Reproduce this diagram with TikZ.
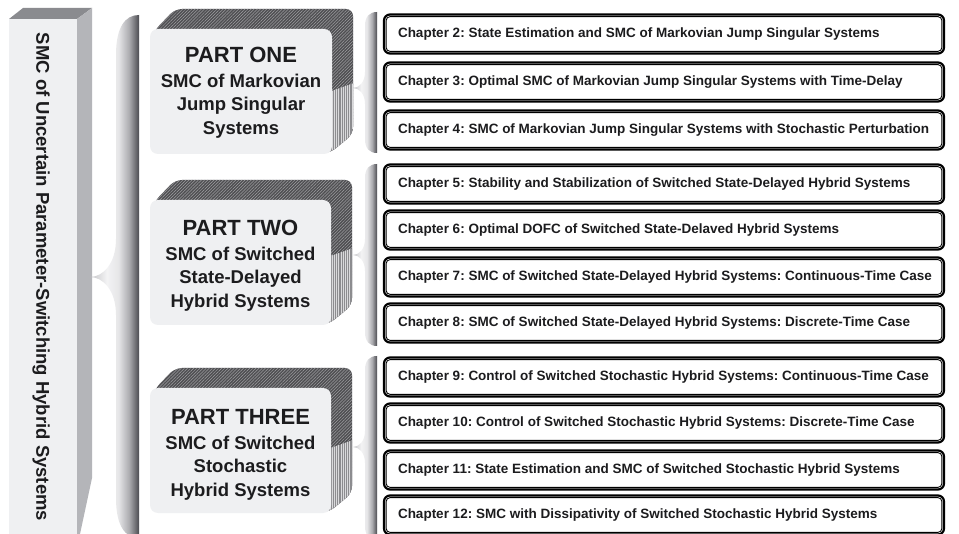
\documentclass[tikz,border=0pt]{standalone}
\usepackage{fontspec}
\setmainfont{Liberation Sans}
\usetikzlibrary{patterns.meta}
\frenchspacing

\definecolor{ink}{HTML}{1C1C1E}
\definecolor{faceLight}{HTML}{EFF0F2}
\definecolor{barTop}{HTML}{8A8B8F}
\definecolor{barSide}{HTML}{B4B5B9}
\definecolor{hatchBase}{HTML}{4F4F52}
\definecolor{hatchLine}{HTML}{A0A0A3}
\definecolor{stripeBase}{HTML}{8C8C8F}
\definecolor{stripeLine}{HTML}{DADADC}
\definecolor{brT}{HTML}{C4C4C7}
\definecolor{brA}{HTML}{F3F3F4}
\definecolor{brM}{HTML}{E6E6E8}
\definecolor{brB}{HTML}{ABABAF}
\definecolor{brC}{HTML}{4C4C51}

% light on the left, dark on the right; the path box maps to 25bp..75bp
\pgfdeclarehorizontalshading{braceshade}{100bp}{color(0bp)=(brT); color(25bp)=(brT); color(42bp)=(brA); color(54bp)=(brM); color(65bp)=(brB); color(75bp)=(brC); color(100bp)=(brC)}

\tikzset{
  bracefill/.style={shading=braceshade},
  hatchdark/.style={fill=hatchBase, postaction={pattern={Lines[angle=45,distance=2.2pt,line width=0.5pt]}, pattern color=hatchLine}},
  stripelight/.style={fill=stripeBase, postaction={pattern={Lines[angle=90,distance=2.2pt,line width=0.8pt]}, pattern color=stripeLine}},
  partface/.style={fill=faceLight, rounded corners=8pt, inner sep=0pt, align=center, text=ink,
     minimum width=181pt, minimum height=125pt, font=\bfseries\fontsize{18.5}{23.5}\selectfont},
  chapbox/.style={draw=black, line width=2.2pt, fill=white, rounded corners=6pt,
     minimum height=39pt, inner xsep=14pt, inner ysep=0pt,
     text=ink, font=\bfseries\fontsize{13.5}{16}\selectfont},
  chapinner/.style={draw=black, line width=0.9pt, rounded corners=4pt},
}

% brace with a sharp tip on its left side
% #1 right edge, #2 left edge, #3 tip x, #4 top, #5 tip y, #6 bottom, #7 end curve, #8 tip curve
\newcommand{\tipbrace}[8]{%
  \shade[bracefill] (#1,#4) .. controls ({#2+0.4*(#1-#2)},#4) and (#2,{#4+0.3*#7}) .. (#2,{#4+#7})
    -- (#2,{#5-#8}) .. controls (#2,{#5-0.35*#8}) and ({#3+0.5*(#2-#3)},#5) .. (#3,#5)
    .. controls ({#3+0.5*(#2-#3)},#5) and (#2,{#5+0.35*#8}) .. (#2,{#5+#8})
    -- (#2,{#6-#7}) .. controls (#2,{#6-0.3*#7}) and ({#2+0.4*(#1-#2)},#6) .. (#1,#6) -- cycle;}

% extruded part block: #1 name, #2 x1, #3 y1, #4 x2, #5 y2, #6 split y, #7 text offset, #8 text
\newcommand{\partblock}[8]{%
  \begin{scope}
    \clip[rounded corners=7pt] ({#2+4},{#3+2}) -- ({#2+25},{#3-20}) -- ({#4+21},{#3-20})
       -- ({#4+21},{#5-20}) -- ({#4-2},{#5-1}) -- ({#2+4},{#5-1}) -- cycle;
    \fill[hatchdark] ({#2},{#3-25}) rectangle ({#4+25},{#5+5});
    \fill[stripelight] ({#4-6},{#6+5}) -- ({#4+25},{#6-6}) -- ({#4+25},{#5+5}) -- ({#4-6},{#5+5}) -- cycle;
  \end{scope}
  \fill[faceLight, rounded corners=8pt] (#2,#3) rectangle (#4,#5);
  \node[partface, fill=none] (#1) at ({(#2+#4)/2},{(#3+#5)/2+#7}) {#8};}

\newcommand{\parthead}[1]{{\fontsize{22}{24}\selectfont #1}\\[1.5pt]}

\begin{document}
\begin{tikzpicture}[x=1pt,y=-1pt]
\useasboundingbox (0,0) rectangle (959,534);
\fill[white] (0,0) rectangle (959,534);

% left column: a tall block seen from above right
\fill[faceLight] (9,19) rectangle (77,534);
\fill[barTop] (9,19) -- (77,19) -- (92,8) -- (23,8) -- cycle;
\fill[barSide] (77,19) -- (92,8) -- (92,478) -- (80,534) -- (77,534) -- cycle;
\node[rotate=-90, text=ink, font=\bfseries\fontsize{18.5}{22}\selectfont] (title) at (41,277)
  {SMC of Uncertain Parameter-Switching Hybrid Systems};

% large brace gathering the three parts
\tipbrace{139}{116}{90}{15}{277}{538}{40}{38}

% the three parts
\partblock{p1}{150}{29}{332}{154}{88}{1}{\parthead{PART ONE}SMC of Markovian\\Jump Singular\\Systems}
\partblock{p2}{150}{200}{331}{325}{253}{3}{\parthead{PART TWO}SMC of Switched\\State-Delayed\\Hybrid Systems}
\partblock{p3}{150}{388}{331}{513}{445}{4}{\parthead{PART THREE}SMC of Switched\\Stochastic\\Hybrid Systems}

% small braces from each part to its chapters
\tipbrace{377}{365}{353}{12}{88}{153}{14}{16}
\tipbrace{377}{365}{353}{164}{255}{346}{14}{16}
\tipbrace{377}{365}{353}{356}{447}{540}{14}{16}

% chapters
\foreach \n/\y/\t in {
  2/34/{Chapter 2: State Estimation and SMC of Markovian Jump Singular Systems},
  3/82/{Chapter 3: Optimal SMC of Markovian Jump Singular Systems with Time-Delay},
  4/130/{Chapter 4: SMC of Markovian Jump Singular Systems with Stochastic Perturbation},
  5/184/{Chapter 5: Stability and Stabilization of Switched State-Delayed Hybrid Systems},
  6/230/{Chapter 6: Optimal DOFC of Switched State-Delaved Hybrid Systems},
  7/277/{Chapter 7: SMC of Switched State-Delayed Hybrid Systems: Continuous-Time Case},
  8/323/{Chapter 8: SMC of Switched State-Delayed Hybrid Systems: Discrete-Time Case},
  9/377/{Chapter 9: Control of Switched Stochastic Hybrid Systems: Continuous-Time Case},
  10/423/{Chapter 10: Control of Switched Stochastic Hybrid Systems: Discrete-Time Case},
  11/470/{Chapter 11: State Estimation and SMC of Switched Stochastic Hybrid Systems},
  12/515/{Chapter 12: SMC with Dissipativity of Switched Stochastic Hybrid Systems}}{
  \node[chapbox] (ch\n) at (664,\y) {\makebox[532pt][l]{\t}};
  \draw[chapinner] ([shift={(3.2,3.2)}]ch\n.north west) rectangle ([shift={(-3.2,-3.2)}]ch\n.south east);
}
\end{tikzpicture}
\end{document}
